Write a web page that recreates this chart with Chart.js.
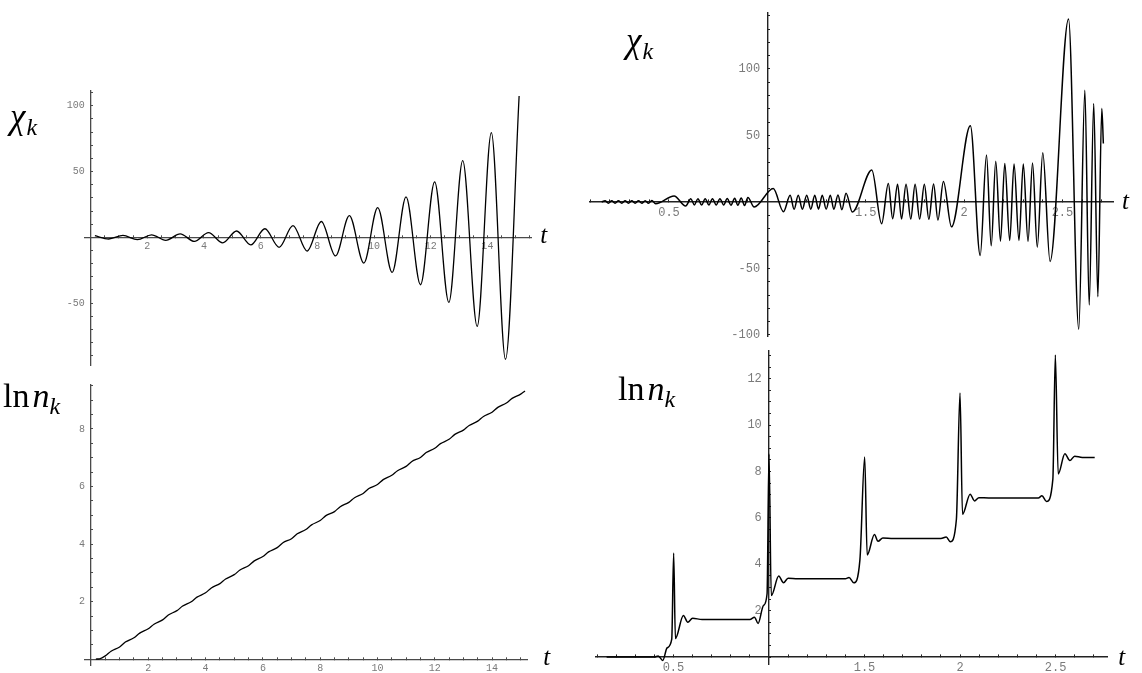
<!DOCTYPE html>
<html><head><meta charset="utf-8">
<script src="https://cdn.jsdelivr.net/npm/chart.js@4.4.1/dist/chart.umd.min.js"></script>
<style>
html,body{margin:0;padding:0;background:#fff;}
#wrap{position:relative;width:1142px;height:673px;overflow:hidden;background:#fff;}
canvas{position:absolute;left:0;top:0;}
</style></head><body>
<div id="wrap">
<canvas id="c1" width="1142" height="673"></canvas>
<canvas id="c2" width="1142" height="673"></canvas>
<canvas id="c3" width="1142" height="673"></canvas>
<canvas id="c4" width="1142" height="673"></canvas>
</div>
<script>
// ---------- DATA ----------
// Top-left: chi_k(t), extrema
const tlT = [0.15,0.64,1.14,1.65,2.15,2.65,3.16,3.66,4.16,4.66,5.15,5.65,6.15,6.65,7.14,7.64,8.14,8.64,9.13,9.64,10.13,10.64,11.13,11.64,12.14,12.64,13.13,13.64,14.14,14.64,15.12];
const tlV = [1.2,-1.3,1.4,-1.8,1.9,-2.3,2.6,-3.1,3.5,-4.3,4.8,-5.8,6.5,-7.6,8.9,-10.5,12.0,-14.2,16.5,-19.6,22.6,-26.7,30.8,-36.1,42.2,-49.5,58.3,-67.8,79.6,-92.8,107.5];

// Bottom-left: ln n_k(t)
const blT = [0.17,0.3,0.5,0.7,1.0,1.2,1.5,1.7,2.0,2.2,2.5,2.7,3.0,3.2,3.5,3.7,4.0,4.2,4.5,4.7,5.0,5.2,5.5,5.7,6.0,6.2,6.5,6.7,7.0,7.2,7.5,7.7,8.0,8.2,8.5,8.7,9.0,9.2,9.5,9.7,10.0,10.2,10.5,10.7,11.0,11.2,11.5,11.7,12.0,12.2,12.5,12.7,13.0,13.2,13.5,13.7,14.0,14.2,14.5,14.7,15.0,15.15];
const blV = [0.01,0.02,0.12,0.28,0.43,0.60,0.75,0.91,1.06,1.22,1.37,1.54,1.69,1.85,2.00,2.16,2.31,2.48,2.63,2.79,2.94,3.10,3.25,3.42,3.57,3.73,3.88,4.05,4.19,4.36,4.51,4.67,4.82,4.99,5.13,5.30,5.45,5.61,5.76,5.93,6.07,6.24,6.39,6.55,6.70,6.87,7.01,7.18,7.33,7.49,7.64,7.81,7.96,8.12,8.27,8.43,8.58,8.75,8.90,9.06,9.21,9.32];

// Top-right: chi_k(t)
const trT = [0.158,0.175,0.192,0.209,0.226,0.243,0.260,0.277,0.294,0.311,0.328,0.345,0.362,0.379,0.396,0.413,0.432,
 0.526,0.585,
 0.611,0.629,0.647,0.666,0.684,0.703,0.721,0.740,0.759,0.778,0.796,0.815,0.834,0.850,0.867,0.884,0.901,0.933,
 1.030,1.082,
 1.116,1.136,1.157,1.178,1.200,1.221,1.241,1.260,1.279,1.299,1.320,1.338,1.359,1.379,1.400,1.432,
 1.531,1.581,
 1.615,1.637,1.662,1.682,1.705,1.729,1.751,1.774,1.798,1.821,1.845,1.867,1.895,1.936,
 2.032,2.082,
 2.114,2.138,2.161,2.185,2.207,2.232,2.254,2.279,2.301,2.325,2.348,2.372,2.400,2.437,
 2.531,2.583,2.614,2.636,2.659,2.680,2.700,2.708];
const trV = [0,0.9,-0.9,0.9,-0.9,0.9,-0.9,0.9,-0.9,0.9,-0.9,0.9,-0.9,1.0,-1.0,1.1,-1.4,
 4.5,-3.0,
 2.4,-2.2,2.4,-2.3,2.4,-2.3,2.5,-2.3,2.5,-2.3,2.6,-2.4,2.7,-2.5,2.9,-2.6,3.4,-3.8,
 10.1,-7.3,
 5.0,-5.5,5.0,-5.4,5.0,-5.4,5.0,-5.4,5.0,-5.4,5.1,-5.5,5.3,-5.8,6.6,-7.6,
 24.0,-16.4,
 13.8,-12.6,13.4,-12.8,13.3,-12.8,13.3,-12.8,13.4,-13.0,13.6,-13.6,15.4,-18.7,
 57.3,-40.2,
 35.4,-33.0,30.6,-29.5,29.0,-29.0,28.5,-29.0,28.5,-29.5,29.3,-34.0,37.0,-44.7,
 137.6,-95.7,84.0,-77.5,74.0,-71.2,70.2,44.0];

// Bottom-right: ln n_k(t)
const brT = [0.15,0.40,0.42,0.444,0.467,0.491,0.501,0.51,0.552,0.575,0.60,0.65,0.90,0.924,0.943,0.971,0.99,1.0,1.012,1.051,1.076,1.10,1.15,1.40,1.419,1.444,1.476,1.501,1.514,1.552,1.571,1.596,1.65,1.90,1.928,1.949,1.981,2.0,2.013,2.053,2.076,2.099,2.15,2.41,2.429,2.453,2.486,2.499,2.514,2.549,2.575,2.60,2.64,2.705];
const brV = [0,0,0.05,-0.15,0.4,0.77,4.48,0.8,1.79,1.5,1.67,1.62,1.62,1.72,1.45,2.22,2.73,8.75,2.65,3.49,3.2,3.4,3.37,3.37,3.43,3.2,4.19,8.62,4.4,5.28,4.99,5.13,5.11,5.11,5.17,4.97,5.93,11.38,6.15,7.02,6.73,6.87,6.86,6.86,6.95,6.7,7.67,13.02,7.89,8.76,8.47,8.66,8.6,8.6];

// Tick labels
const tlXLabels = [2,4,6,8,10,12,14];
const tlYLabels = [-50,50,100];
const blXLabels = [2,4,6,8,10,12,14];
const blYLabels = [2,4,6,8];
const trXLabels = [0.5,1.5,2,2.5];
const trYLabels = [-100,-50,50,100];
const brXLabels = [0.5,1.5,2,2.5];
const brYLabels = [2,4,6,8,10,12];

// ---------- HELPERS ----------
function seq(a, b, step) {
  const out = [];
  const n = Math.round((b - a) / step);
  for (let i = 0; i <= n; i++) out.push(Math.round((a + i * step) * 1e6) / 1e6);
  return out;
}
function labelFor(v, labels) {
  const l = labels.find(x => Math.abs(x - v) < 1e-6);
  return l === undefined ? '' : String(l);
}

const axisLabelPlugin = {
  id: 'axisLabels',
  afterDraw(chart, args, opts) {
    const ctx = chart.ctx;
    ctx.save();
    ctx.fillStyle = '#000';
    ctx.textBaseline = 'alphabetic';
    ctx.textAlign = 'left';
    (opts.items || []).forEach(item => {
      let x = item.x, y = item.y;
      if (item.axisEnd) {
        x = chart.scales.x.right + item.dx;
        y = chart.scales.y.getPixelForValue(0) + item.dy;
      }
      item.parts.forEach(p => {
        ctx.font = p.font;
        ctx.fillText(p.text, x, y + (p.dy || 0));
        x += ctx.measureText(p.text).width + (p.gap || 0);
      });
    });
    ctx.restore();
  }
};

const W = 1142, H = 673;
const SERIF = '"Liberation Serif", "Times New Roman", serif';

function makeChart(id, c) {
  const xTicks = seq(c.xTickFrom, c.xTickTo, c.xStep);
  const yTicks = seq(c.yTickFrom, c.yTickTo, c.yStep);
  const tickFont = {family: '"Liberation Mono", "Courier New", monospace', size: c.fontSize};
  new Chart(document.getElementById(id), {
    type: 'line',
    data: {datasets: [{
      data: c.t.map((t, i) => ({x: t, y: c.v[i]})),
      borderColor: '#000', borderWidth: c.lw, pointRadius: 0,
      cubicInterpolationMode: 'monotone', fill: false
    }]},
    options: {
      responsive: false, animation: false, events: [],
      layout: {padding: {left: c.area[0], top: c.area[1], right: W - c.area[2], bottom: H - c.area[3]}},
      plugins: {legend: {display: false}, tooltip: {enabled: false}, axisLabels: {items: c.labels}},
      scales: {
        x: {
          type: 'linear', position: {y: 0}, min: c.xMin, max: c.xMax, bounds: 'data',
          afterBuildTicks: s => { s.ticks = xTicks.map(v => ({value: v})); },
          afterFit: s => { s.height = 0; s.paddingLeft = 0; s.paddingRight = 0; },
          grid: {drawOnChartArea: false, drawTicks: true, tickLength: -3, tickColor: c.axisColor, tickWidth: 1},
          border: {display: true, color: c.axisColor, width: c.axisW},
          ticks: {autoSkip: false, maxRotation: 0, minRotation: 0, padding: c.xPad, font: tickFont, color: '#7a7a7a',
                  callback: v => labelFor(v, c.xLabels)}
        },
        y: {
          type: 'linear', position: {x: c.yAt}, min: c.yMin, max: c.yMax, bounds: 'data',
          afterBuildTicks: s => { s.ticks = yTicks.map(v => ({value: v})); },
          afterFit: s => { s.width = 0; s.paddingTop = 0; s.paddingBottom = 0; },
          grid: {drawOnChartArea: false, drawTicks: true, tickLength: -3, tickColor: c.axisColor, tickWidth: 1},
          border: {display: true, color: c.axisColor, width: c.axisW},
          ticks: {autoSkip: false, padding: 0, font: tickFont, color: '#7a7a7a',
                  callback: v => { const s = labelFor(v, c.yLabels); return s ? s + ' ' : ''; }}
        }
      }
    },
    plugins: [axisLabelPlugin]
  });
}

// Top-left
makeChart('c1', {
  t: tlT, v: tlV, lw: 1.3, axisColor: '#4a4a4a', axisW: 1.3, fontSize: 10, xPad: 6,
  area: [84.4, 91.0, 531.3, 365.7], xMin: -0.22, xMax: 15.55, yMin: -97.7, yMax: 111.3, yAt: 0,
  xTickFrom: 0, xTickTo: 15.5, xStep: 0.5, yTickFrom: -90, yTickTo: 110, yStep: 10,
  xLabels: tlXLabels, yLabels: tlYLabels,
  labels: [
    {x: 10, y: 128, parts: [{text: 'χ', font: 'italic 35px ' + SERIF, gap: 1}, {text: 'k', font: 'italic 24px ' + SERIF, dy: 7}]},
    {axisEnd: true, dx: 9, dy: 6, parts: [{text: 't', font: 'italic 25px ' + SERIF}]}
  ]
});

// Bottom-left
makeChart('c2', {
  t: blT, v: blV, lw: 1.3, axisColor: '#4a4a4a', axisW: 1.3, fontSize: 10, xPad: 6,
  area: [84.4, 384.3, 527.3, 665.1], xMin: -0.23, xMax: 15.23, yMin: -0.2, yMax: 9.55, yAt: 0,
  xTickFrom: 0, xTickTo: 15, xStep: 0.5, yTickFrom: 0, yTickTo: 9.5, yStep: 0.5,
  xLabels: blXLabels, yLabels: blYLabels,
  labels: [
    {x: 3, y: 407, parts: [{text: 'ln', font: '34px ' + SERIF, gap: 3}, {text: 'n', font: 'italic 34px ' + SERIF}, {text: 'k', font: 'italic 24px ' + SERIF, dy: 7}]},
    {axisEnd: true, dx: 16, dy: 6, parts: [{text: 't', font: 'italic 25px ' + SERIF}]}
  ]
});

// Top-right
makeChart('c3', {
  t: trT, v: trV, lw: 1.5, axisColor: '#222', axisW: 1.4, fontSize: 12, xPad: 7,
  area: [589.7, 12.7, 1113, 336.3], xMin: 0.097, xMax: 2.757, yMin: -101, yMax: 142.3, yAt: 1,
  xTickFrom: 0.1, xTickTo: 2.7, xStep: 0.1, yTickFrom: -100, yTickTo: 140, yStep: 10,
  xLabels: trXLabels, yLabels: trYLabels,
  labels: [
    {x: 626, y: 52, parts: [{text: 'χ', font: 'italic 35px ' + SERIF, gap: 1}, {text: 'k', font: 'italic 24px ' + SERIF, dy: 7}]},
    {axisEnd: true, dx: 9, dy: 7, parts: [{text: 't', font: 'italic 25px ' + SERIF}]}
  ]
});

// Bottom-right
makeChart('c4', {
  t: brT, v: brV, lw: 1.5, axisColor: '#222', axisW: 1.4, fontSize: 12, xPad: 7,
  area: [596.1, 350.8, 1107.3, 664], xMin: 0.095, xMax: 2.771, yMin: -0.3, yMax: 13.2, yAt: 1,
  xTickFrom: 0.1, xTickTo: 2.7, xStep: 0.1, yTickFrom: 0, yTickTo: 13, yStep: 0.5,
  xLabels: brXLabels, yLabels: brYLabels,
  labels: [
    {x: 618, y: 400, parts: [{text: 'ln', font: '34px ' + SERIF, gap: 3}, {text: 'n', font: 'italic 34px ' + SERIF}, {text: 'k', font: 'italic 24px ' + SERIF, dy: 7}]},
    {axisEnd: true, dx: 11, dy: 8, parts: [{text: 't', font: 'italic 25px ' + SERIF}]}
  ]
});
</script>
</body></html>
